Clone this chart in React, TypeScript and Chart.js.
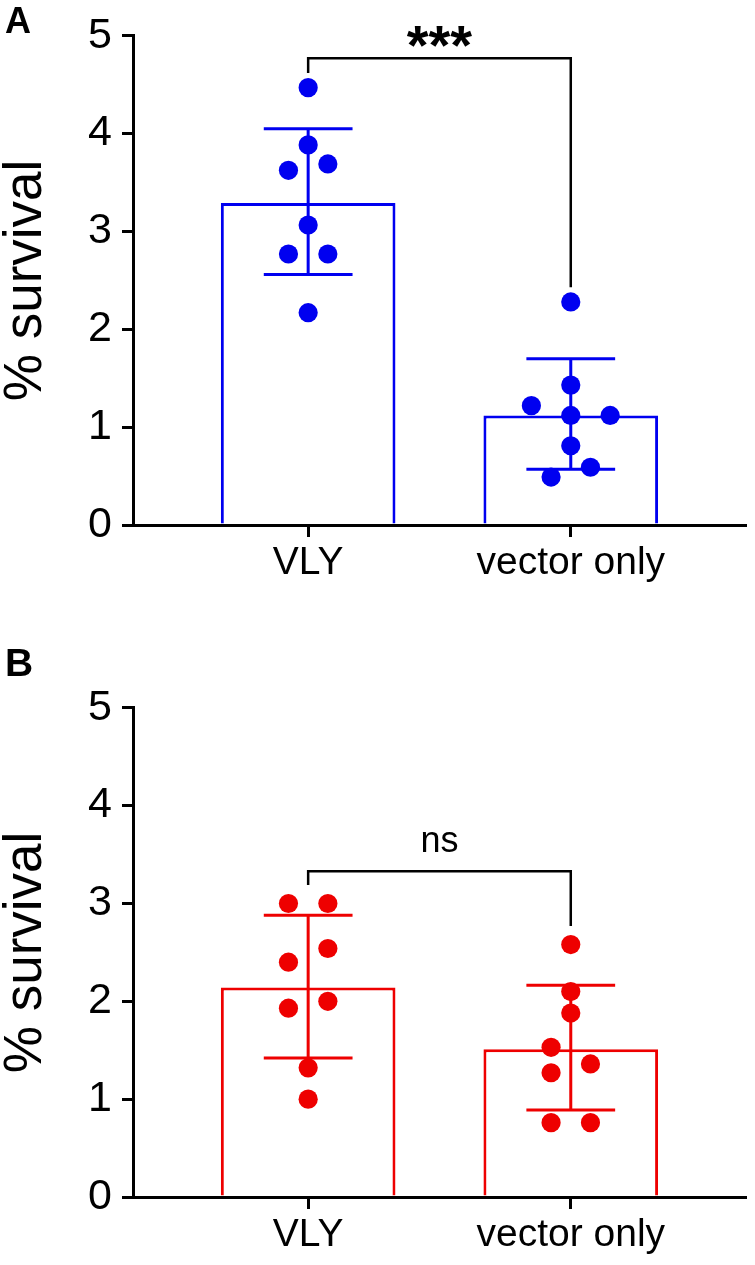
import React, { useEffect, useRef } from 'react';
import { Chart, registerables } from 'chart.js';

Chart.register(...registerables);

const FONT = '"Liberation Sans", Arial, Helvetica, sans-serif';

// ---- shared ----
const categories = ['VLY', 'vector only'];
const categoryX = [1, 2];
const yMin = 0;
const yMax = 5;
const yStep = 1;
const xMin = 0.333;
const xMax = 2.665;

// ---- Panel A (blue) ----
const aBarMeans = [3.29, 1.12];
const aErrUpper = [4.05, 1.7];
const aErrLower = [2.56, 0.57];
const aVlyPoints = [4.47, 3.885, 3.625, 3.69, 3.066, 2.77, 2.77, 2.17];
const aVlyJitter = [0, 0, -0.075, 0.075, 0, -0.075, 0.075, 0];
const aVecPoints = [2.28, 1.43, 1.22, 1.12, 1.12, 0.81, 0.59, 0.49];
const aVecJitter = [0, 0, -0.15, 0, 0.15, 0, 0.075, -0.075];
const aBracket = [4.77, 4.62, 2.43]; // bar level, left end, right end
const aSigText = '***';
const aSigY = 4.99;

// ---- Panel B (red) ----
const bBarMeans = [2.14, 1.51];
const bErrUpper = [2.88, 2.165];
const bErrLower = [1.42, 0.89];
const bVlyPoints = [3.0, 3.0, 2.54, 2.4, 2.0, 1.93, 1.32, 1.0];
const bVlyJitter = [-0.075, 0.075, 0.075, -0.075, 0.075, -0.075, 0, 0];
const bVecPoints = [2.58, 2.1, 1.88, 1.53, 1.36, 1.27, 0.76, 0.76];
const bVecJitter = [0, 0, 0, -0.075, 0.075, -0.075, -0.075, 0.075];
const bBracket = [3.33, 3.19, 2.77];
const bSigText = 'ns';
const bSigY = 3.63;

type PanelProps = {
  color: string;
  means: number[];
  upper: number[];
  lower: number[];
  vlyPts: number[];
  vlyJit: number[];
  vecPts: number[];
  vecJit: number[];
  bracket: number[];
  sigText: string;
  sigY: number;
  sigFont: string;
  top: number;
};

function Panel(p: PanelProps) {
  const ref = useRef<HTMLCanvasElement>(null);
  useEffect(() => {
    const canvas = ref.current!;
    const scatter = [
      ...p.vlyPts.map((y, i) => ({ x: categoryX[0] + p.vlyJit[i], y })),
      ...p.vecPts.map((y, i) => ({ x: categoryX[1] + p.vecJit[i], y })),
    ];
    const bars = categoryX.map((x, i) => ({ x, y: p.means[i] }));
    const capHalf = 0.169;

    const overlay = {
      id: 'overlay',
      afterDatasetDraw(chart: any, args: any) {
        if (args.index !== 1) return;
        const ctx = chart.ctx;
        const xs = chart.scales.x;
        const ys = chart.scales.y;
        ctx.save();
        ctx.strokeStyle = p.color;
        ctx.lineWidth = 3;
        categoryX.forEach((xv, i) => {
          const cx = xs.getPixelForValue(xv);
          const l = xs.getPixelForValue(xv - capHalf);
          const r = xs.getPixelForValue(xv + capHalf);
          const yt = ys.getPixelForValue(p.upper[i]);
          const yb = ys.getPixelForValue(p.lower[i]);
          ctx.beginPath();
          ctx.moveTo(cx, yt);
          ctx.lineTo(cx, yb);
          ctx.moveTo(l, yt);
          ctx.lineTo(r, yt);
          ctx.moveTo(l, yb);
          ctx.lineTo(r, yb);
          ctx.stroke();
        });
        ctx.restore();
      },
      afterDatasetsDraw(chart: any) {
        const ctx = chart.ctx;
        const xs = chart.scales.x;
        const ys = chart.scales.y;
        const x1 = xs.getPixelForValue(categoryX[0]);
        const x2 = xs.getPixelForValue(categoryX[1]);
        const yb = ys.getPixelForValue(p.bracket[0]);
        const yl = ys.getPixelForValue(p.bracket[1]);
        const yr = ys.getPixelForValue(p.bracket[2]);
        ctx.save();
        ctx.strokeStyle = '#000';
        ctx.lineWidth = 2.5;
        ctx.beginPath();
        ctx.moveTo(x1, yl);
        ctx.lineTo(x1, yb);
        ctx.lineTo(x2, yb);
        ctx.lineTo(x2, yr);
        ctx.stroke();
        ctx.font = p.sigFont;
        ctx.fillStyle = '#000';
        ctx.textAlign = 'center';
        ctx.textBaseline = 'alphabetic';
        const m = ctx.measureText(p.sigText);
        const cy = ys.getPixelForValue(p.sigY);
        const baseY = cy + (m.actualBoundingBoxAscent - m.actualBoundingBoxDescent) / 2;
        ctx.fillText(p.sigText, (x1 + x2) / 2, baseY);
        ctx.restore();
      },
    };

    const chart = new Chart(canvas, {
      type: 'bar',
      data: {
        datasets: [
          {
            type: 'scatter',
            data: scatter,
            backgroundColor: p.color,
            borderColor: p.color,
            borderWidth: 0,
            pointRadius: 9.6,
            pointHoverRadius: 9.6,
          } as any,
          {
            type: 'bar',
            data: bars,
            backgroundColor: '#ffffff',
            borderColor: p.color,
            borderWidth: 3,
            barPercentage: 0.665,
            categoryPercentage: 1,
          } as any,
        ],
      },
      options: {
        responsive: false,
        animation: false,
        events: [],
        layout: { padding: { top: 33, right: 7, left: 0, bottom: 0 } },
        plugins: { legend: { display: false }, tooltip: { enabled: false } },
        scales: {
          x: {
            type: 'linear',
            min: xMin,
            max: xMax,
            offset: false,
            afterBuildTicks: (scale: any) => {
              scale.ticks = categoryX.map((v) => ({ value: v }));
            },
            afterFit: (scale: any) => {
              scale.height = 68;
            },
            grid: {
              display: true,
              offset: false,
              drawOnChartArea: false,
              drawTicks: true,
              tickLength: 12,
              lineWidth: 3,
              color: '#000',
            },
            border: { display: true, width: 3, color: '#000' },
            ticks: {
              autoSkip: false,
              maxRotation: 0,
              padding: 3,
              color: '#000',
              font: { family: FONT, size: 39 },
              callback: (v: any) => categories[categoryX.indexOf(Number(v))] ?? '',
            },
          },
          y: {
            type: 'linear',
            min: yMin,
            max: yMax,
            afterFit: (scale: any) => {
              scale.width = 133;
            },
            grid: {
              display: true,
              drawOnChartArea: false,
              drawTicks: true,
              tickLength: 11,
              lineWidth: 3,
              color: '#000',
            },
            border: { display: true, width: 3, color: '#000' },
            ticks: {
              stepSize: yStep,
              padding: 10,
              color: '#000',
              font: { family: FONT, size: 43 },
            },
            title: {
              display: true,
              text: '% survival',
              color: '#000',
              padding: 0,
              font: { family: FONT, size: 53, lineHeight: 1 },
            },
          },
        },
      } as any,
      plugins: [overlay],
    });
    return () => chart.destroy();
  }, []);

  return (
    <div style={{ position: 'absolute', left: 0, top: p.top, width: 755, height: 593 }}>
      <canvas ref={ref} width={755} height={593} style={{ display: 'block' }} />
    </div>
  );
}

export default function App() {
  return (
    <div
      style={{
        position: 'absolute',
        left: 0,
        top: 0,
        width: 755,
        height: 1265,
        background: '#fff',
        overflow: 'hidden',
      }}
    >
      <Panel
        color="#0000F0"
        means={aBarMeans}
        upper={aErrUpper}
        lower={aErrLower}
        vlyPts={aVlyPoints}
        vlyJit={aVlyJitter}
        vecPts={aVecPoints}
        vecJit={aVecJitter}
        bracket={aBracket}
        sigText={aSigText}
        sigY={aSigY}
        sigFont={`bold 56px ${FONT}`}
        top={0}
      />
      <Panel
        color="#EE0000"
        means={bBarMeans}
        upper={bErrUpper}
        lower={bErrLower}
        vlyPts={bVlyPoints}
        vlyJit={bVlyJitter}
        vecPts={bVecPoints}
        vecJit={bVecJitter}
        bracket={bBracket}
        sigText={bSigText}
        sigY={bSigY}
        sigFont={`36px ${FONT}`}
        top={672}
      />
      <div
        style={{
          position: 'absolute',
          left: 5,
          top: 3,
          fontFamily: FONT,
          fontWeight: 'bold',
          fontSize: 36,
          lineHeight: 1,
          color: '#000',
        }}
      >
        A
      </div>
      <div
        style={{
          position: 'absolute',
          left: 5,
          top: 643,
          fontFamily: FONT,
          fontWeight: 'bold',
          fontSize: 39,
          lineHeight: 1,
          color: '#000',
        }}
      >
        B
      </div>
    </div>
  );
}
